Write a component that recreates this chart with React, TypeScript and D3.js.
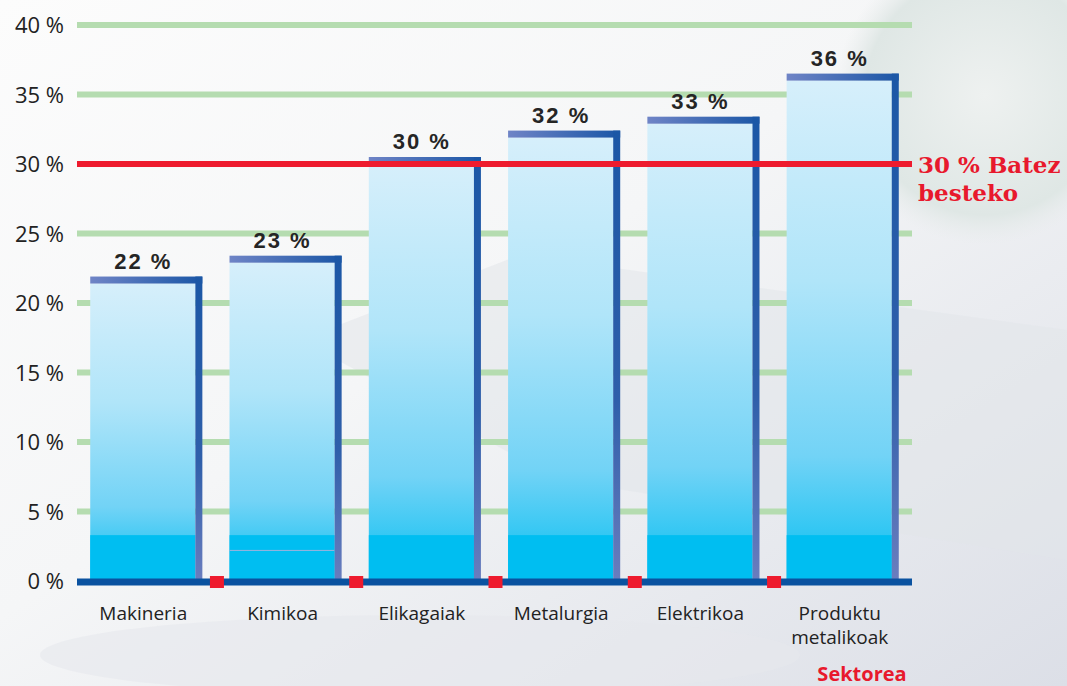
import React from "react";
import * as d3 from "d3";

const categories = ["Makineria", "Kimikoa", "Elikagaiak", "Metalurgia", "Elektrikoa", "Produktu\nmetalikoak"];
const values = [21.4, 22.9, 30, 31.9, 32.9, 36];
const valueLabels = ["22 %", "23 %", "30 %", "32 %", "33 %", "36 %"];
const yTicks = [0, 5, 10, 15, 20, 25, 30, 35, 40];
const average = 30;
const averageLabel = ["30 % Batez", "besteko"];
const axisTitle = "Sektorea";

const W = 1067;
const H = 686;

export default function App() {
  const x = d3.scaleBand<string>().domain(categories).range([77, 912]).paddingInner(0.195).paddingOuter(0.095);
  const y = d3.scaleLinear().domain([0, 40]).range([581, 25]);
  const bw = x.bandwidth();
  const edge = 7;

  return (
    <svg width={W} height={H} style={{ position: "absolute", left: 0, top: 0, display: "block" }}>
      <defs>
        <linearGradient id="bg" x1="0" y1="0" x2="1" y2="1">
          <stop offset="0" stopColor="#fcfcfc" />
          <stop offset="0.45" stopColor="#f5f6f7" />
          <stop offset="1" stopColor="#dcdfe7" />
        </linearGradient>
        <radialGradient id="ball" cx="0.5" cy="0.5" r="0.5">
          <stop offset="0" stopColor="#eef1f0" />
          <stop offset="0.8" stopColor="#dfe7e5" />
          <stop offset="1" stopColor="#e8ecec" stopOpacity="0" />
        </radialGradient>
        <linearGradient id="barFill" x1="0" y1="0" x2="0" y2="1">
          <stop offset="0" stopColor="#d6effb" />
          <stop offset="0.4" stopColor="#b0e5f9" />
          <stop offset="0.75" stopColor="#72d3f6" />
          <stop offset="1" stopColor="#08bff1" />
        </linearGradient>
        <linearGradient id="topEdge" x1="0" y1="0" x2="1" y2="0">
          <stop offset="0" stopColor="#6f84c6" />
          <stop offset="1" stopColor="#1a56a6" />
        </linearGradient>
        <linearGradient id="sideEdge" x1="0" y1="0" x2="0" y2="1">
          <stop offset="0" stopColor="#1b57a6" />
          <stop offset="0.6" stopColor="#2f5faa" />
          <stop offset="1" stopColor="#6a7dbe" />
        </linearGradient>
      </defs>

      <rect x={0} y={0} width={W} height={H} fill="url(#bg)" />
      <circle cx={985} cy={95} r={150} fill="url(#ball)" />
      <path d="M 300 340 L 520 255 L 1067 330 L 1067 560 L 560 480 Z" fill="#e2e5ea" opacity={0.55} />
      <ellipse cx={420} cy={655} rx={380} ry={40} fill="#e6e8ec" opacity={0.6} />

      {yTicks.filter((t) => t !== 0 && t !== average).map((t) => (
        <line key={t} x1={77} x2={912} y1={y(t)} y2={y(t)} stroke="#b5dcb0" strokeWidth={6} />
      ))}

      {yTicks.map((t) => (
        <text key={"l" + t} x={64} y={y(t) + 8} textAnchor="end" fontFamily="'Open Sans', 'DejaVu Sans', sans-serif" fontSize={22} fill="#222">
          {t} %
        </text>
      ))}

      {categories.map((c, i) => {
        const x0 = x(c)!;
        const yt = y(values[i]);
        const bottomSolid = y(3.3);
        return (
          <g key={c}>
            <rect x={x0} y={yt} width={bw - edge} height={y(0) - yt} fill="url(#barFill)" />
            <rect x={x0} y={bottomSolid} width={bw - edge} height={y(0) - bottomSolid} fill="#00bef1" />
            {i === 1 && (
              <line x1={x0} x2={x0 + bw - edge} y1={y(2.2)} y2={y(2.2)} stroke="#9fb3dc" strokeWidth={1} />
            )}
            <rect x={x0} y={yt - edge} width={bw} height={edge} fill="url(#topEdge)" />
            <rect x={x0 + bw - edge} y={yt - edge} width={edge} height={y(0) - yt + edge} fill="url(#sideEdge)" />
            <text x={x0 + bw / 2 - 3} y={yt - 15} textAnchor="middle" fontFamily="'Liberation Sans', Arial, sans-serif" fontWeight="bold" fontSize={22} fill="#252525" letterSpacing={2}>
              {valueLabels[i]}
            </text>
            {c.split("\n").map((line, k) => (
              <text key={k} x={x0 + bw / 2 - 3} y={620 + k * 24} textAnchor="middle" fontFamily="'Open Sans', 'DejaVu Sans', sans-serif" fontSize={19} fill="#222">
                {line}
              </text>
            ))}
          </g>
        );
      })}

      <line x1={77} x2={912} y1={y(average)} y2={y(average)} stroke="#ee1b2e" strokeWidth={6} />
      <line x1={77} x2={912} y1={y(0) + 1} y2={y(0) + 1} stroke="#0a52a0" strokeWidth={7} />

      {categories.slice(0, -1).map((c, i) => {
        const cx = (x(c)! + bw + x(categories[i + 1])!) / 2 + 1;
        return <rect key={"m" + i} x={cx - 7} y={y(0) - 5} width={14} height={12} fill="#ee1b2e" />;
      })}

      {averageLabel.map((t, k) => (
        <text key={t} x={918} y={y(average) + 9 + k * 28} fontFamily="'DejaVu Serif', 'Liberation Serif', serif" fontWeight="bold" fontSize={23} fill="#e8192d">
          {t}
        </text>
      ))}

      <text x={862} y={681} textAnchor="middle" fontFamily="'Open Sans', 'DejaVu Sans', sans-serif" fontWeight="bold" fontSize={20} fill="#e8192d">
        {axisTitle}
      </text>
    </svg>
  );
}
